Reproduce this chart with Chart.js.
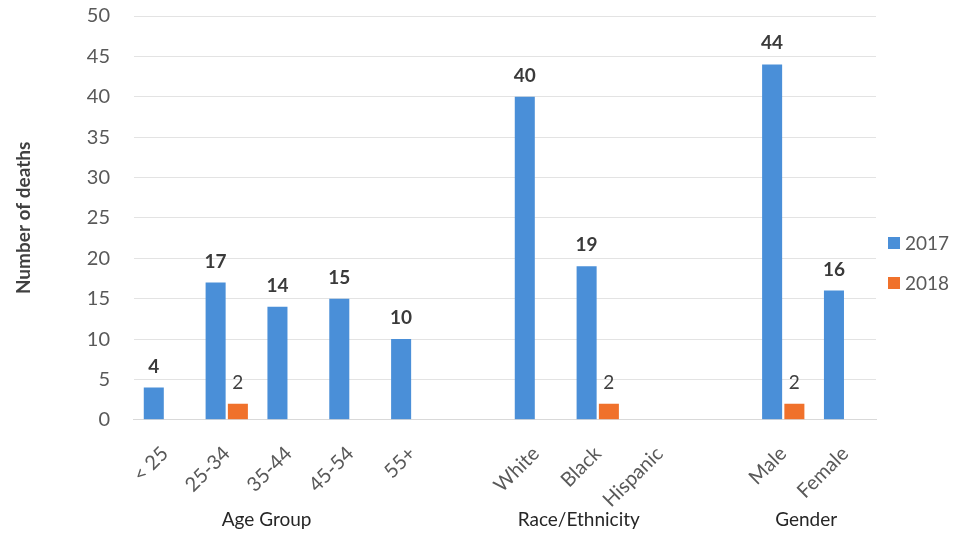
<!DOCTYPE html>
<html>
<head>
<meta charset="utf-8">
<script src="https://cdn.jsdelivr.net/npm/chart.js@4/dist/chart.umd.min.js"></script>
<style>
  html, body { margin: 0; padding: 0; background: #fff; }
  #wrap { width: 957px; height: 534px; }
</style>
</head>
<body>
<div id="wrap"><canvas id="myChart" width="957" height="534"></canvas></div>
<script>
// categories ('' = empty spacer slot between groups)
let categorias = ['< 25', '25-34', '35-44', '45-54', '55+', '', 'White', 'Black', 'Hispanic', '', 'Male', 'Female']
let mortes2017 = [4, 17, 14, 15, 10, null, 40, 19, null, null, 44, 16]
let mortes2018 = [null, 2, null, null, null, null, null, 2, null, null, 2, null]
let yTicks = [0, 5, 10, 15, 20, 25, 30, 35, 40, 45, 50]

// group labels under the axis (first and last category index)
let grupoNomes = ['Age Group', 'Race/Ethnicity', 'Gender']
let grupoInicio = [0, 6, 10]
let grupoFim = [4, 8, 11]

let cor1 = '#4a8fd8'
let cor2 = '#f0712b'
let fonte = 'Lato, "Open Sans", sans-serif'

// draw the value over each bar
const valoresPlugin = {
    id: 'valores',
    afterDatasetsDraw(chart) {
        const ctx = chart.ctx
        ctx.save()
        ctx.textAlign = 'center'
        ctx.textBaseline = 'alphabetic'
        chart.data.datasets.forEach((ds, di) => {
            const meta = chart.getDatasetMeta(di)
            ctx.font = (di == 0 ? 'bold ' : '') + '19px ' + fonte
            ctx.fillStyle = di == 0 ? '#3a3a3a' : '#404040'
            meta.data.forEach((bar, i) => {
                const v = ds.data[i]
                if (v == null) return
                ctx.fillText(String(v), bar.x, bar.y - 15)
            })
        })
        ctx.restore()
    }
}

// group titles below the rotated tick labels + legend on the right
const gruposPlugin = {
    id: 'grupos',
    afterDraw(chart) {
        const ctx = chart.ctx
        const x = chart.scales.x
        const ajuste = [-22, -19, -8] // small nudge so titles sit under the slanted labels
        ctx.save()
        ctx.font = '19px ' + fonte
        ctx.fillStyle = '#262626'
        ctx.textAlign = 'center'
        ctx.textBaseline = 'middle'
        for (let g = 0; g < grupoNomes.length; g++) {
            let a = x.getPixelForValue(grupoInicio[g])
            let b = x.getPixelForValue(grupoFim[g])
            ctx.fillText(grupoNomes[g], (a + b) / 2 + ajuste[g], chart.height - 14)
        }

        // legend
        ctx.textAlign = 'left'
        chart.data.datasets.forEach((ds, di) => {
            let y = chart.height / 2 - 24 + di * 40
            let lx = chart.chartArea.right + 12
            ctx.fillStyle = ds.backgroundColor
            ctx.fillRect(lx, y - 6, 12, 12)
            ctx.fillStyle = '#595959'
            ctx.fillText(ds.label, lx + 17, y + 1)
        })
        ctx.restore()
    }
}

const ctx = document.getElementById('myChart').getContext('2d')
let myChart = new Chart(ctx, {
    type: 'bar',
    data: {
        labels: categorias,
        datasets: [{
            label: '2017',
            data: mortes2017,
            backgroundColor: cor1,
            borderWidth: 0
        }, {
            label: '2018',
            data: mortes2018,
            backgroundColor: cor2,
            borderWidth: 0
        }]
    },
    options: {
        responsive: false,
        animation: false,
        categoryPercentage: 0.72,
        barPercentage: 0.9,
        layout: {
            padding: { top: 4, right: 81, bottom: 8, left: 12 }
        },
        plugins: {
            legend: { display: false },
            tooltip: { enabled: false }
        },
        scales: {
            x: {
                grid: { display: false },
                border: { color: '#d9d9d9' },
                ticks: {
                    color: '#595959',
                    padding: 14,
                    font: { family: fonte, size: 20 },
                    minRotation: 45,
                    maxRotation: 45,
                    autoSkip: false
                }
            },
            y: {
                min: 0,
                max: 50,
                afterBuildTicks: (axis) => { axis.ticks = yTicks.map(v => ({ value: v })) },
                grid: { color: '#e3e3e3', drawTicks: true, tickLength: 20, tickColor: 'rgba(0,0,0,0)' },
                border: { display: false },
                ticks: {
                    color: '#595959',
                    padding: 4,
                    font: { family: fonte, size: 20 }
                },
                title: {
                    display: true,
                    text: 'Number of deaths',
                    color: '#404040',
                    padding: { top: 0, bottom: 48 },
                    font: { family: fonte, size: 19, weight: 'bold' }
                }
            }
        }
    },
    plugins: [valoresPlugin, gruposPlugin]
});
</script>
</body>
</html>
